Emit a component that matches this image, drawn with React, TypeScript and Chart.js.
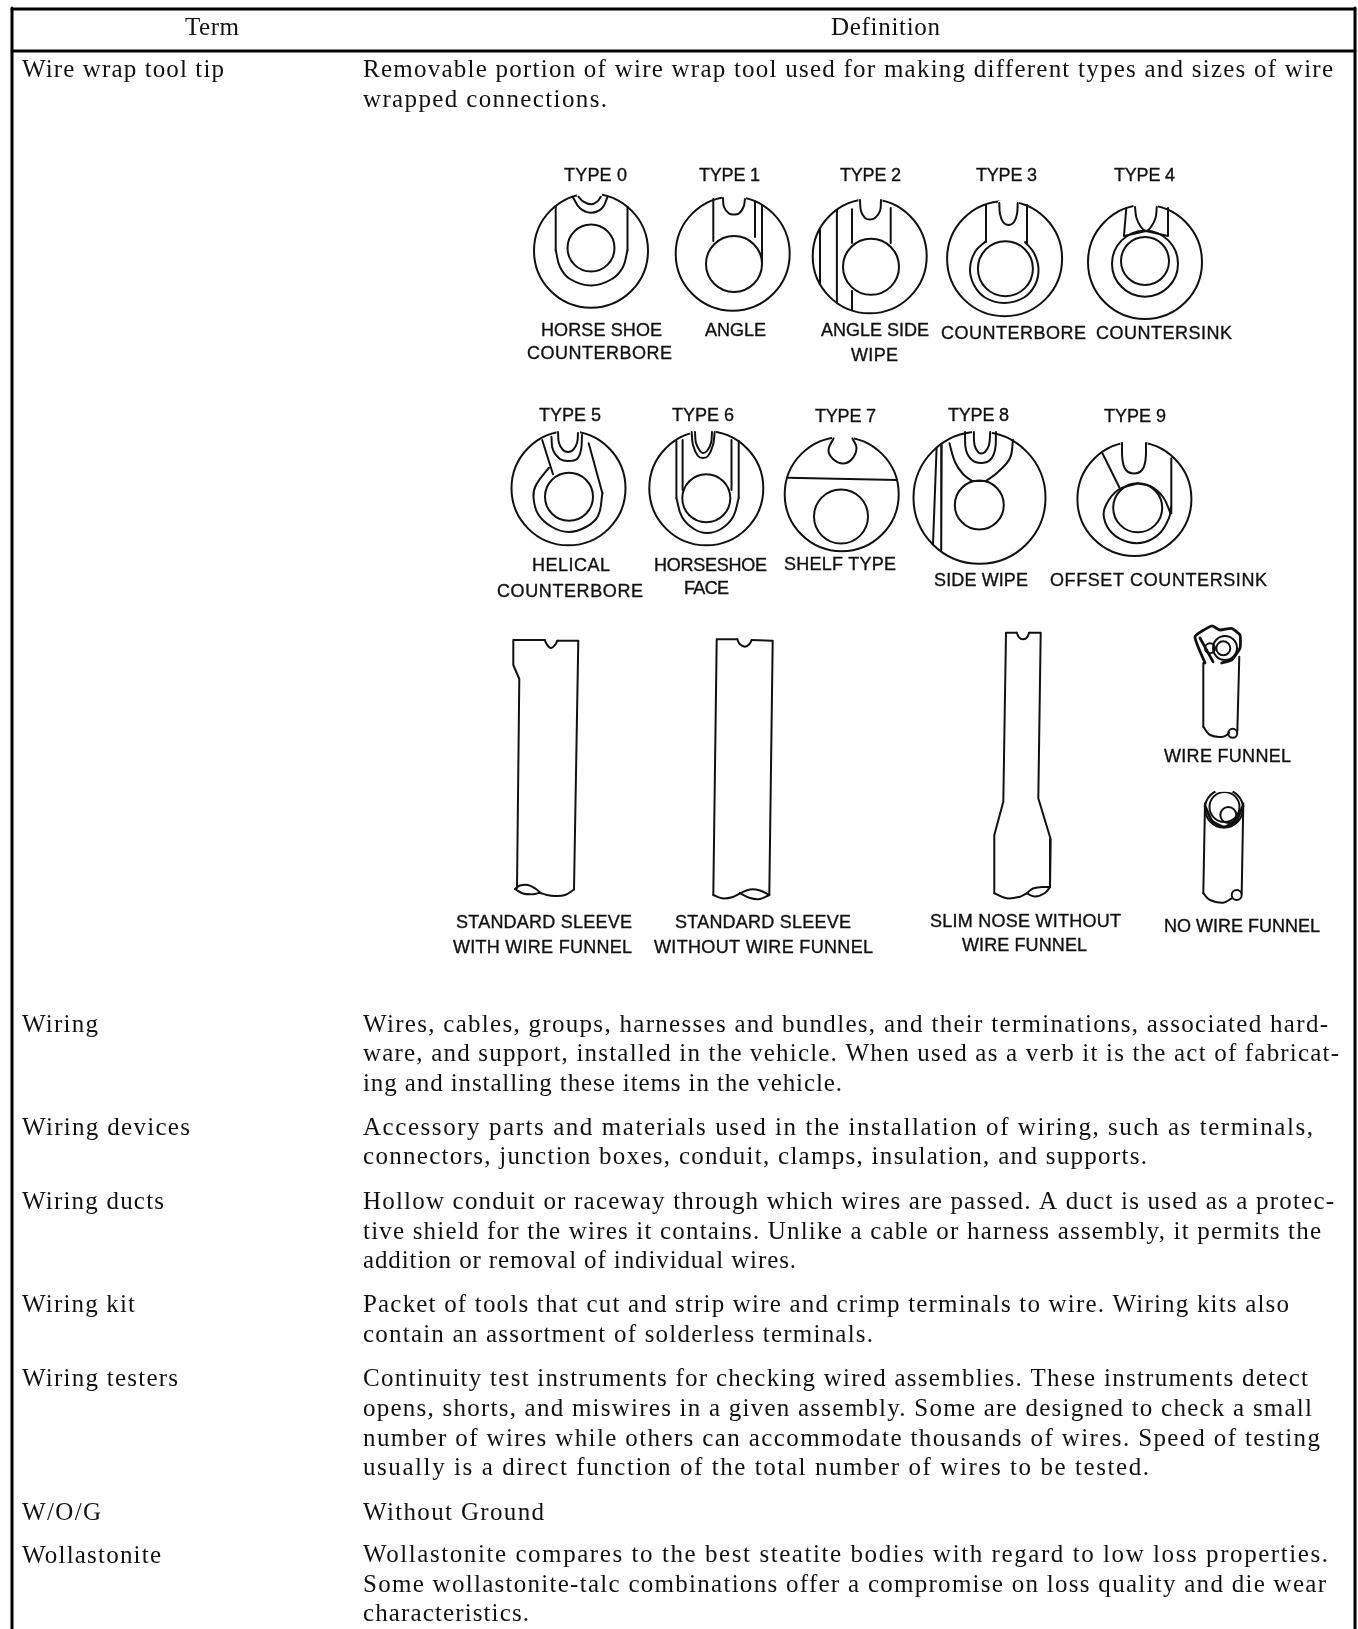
import React, { useEffect, useRef } from "react";
import { Chart, registerables } from "chart.js";

Chart.register(...registerables);

type P = [number, number];

const headerLabels = ["Term", "Definition"];
const termLabels = ["Wire wrap tool tip", "Wiring", "Wiring devices", "Wiring ducts", "Wiring kit", "Wiring testers", "W/O/G", "Wollastonite"];
const definitionLines = [
  "Removable portion of wire wrap tool used for making different types and sizes of wire",
  "wrapped connections.",
  "Wires, cables, groups, harnesses and bundles, and their terminations, associated hard-",
  "ware, and support, installed in the vehicle. When used as a verb it is the act of fabricat-",
  "ing and installing these items in the vehicle.",
  "Accessory parts and materials used in the installation of wiring, such as terminals,",
  "connectors, junction boxes, conduit, clamps, insulation, and supports.",
  "Hollow conduit or raceway through which wires are passed. A duct is used as a protec-",
  "tive shield for the wires it contains. Unlike a cable or harness assembly, it permits the",
  "addition or removal of individual wires.",
  "Packet of tools that cut and strip wire and crimp terminals to wire. Wiring kits also",
  "contain an assortment of solderless terminals.",
  "Continuity test instruments for checking wired assemblies. These instruments detect",
  "opens, shorts, and miswires in a given assembly. Some are designed to check a small",
  "number of wires while others can accommodate thousands of wires. Speed of testing",
  "usually is a direct function of the total number of wires to be tested.",
  "Without Ground",
  "Wollastonite compares to the best steatite bodies with regard to low loss properties.",
  "Some wollastonite-talc combinations offer a compromise on loss quality and die wear",
  "characteristics.",
];
const diagramLabels = [
  "TYPE 0", "TYPE 1", "TYPE 2", "TYPE 3", "TYPE 4",
  "HORSE SHOE", "COUNTERBORE", "ANGLE", "ANGLE SIDE", "WIPE", "COUNTERBORE", "COUNTERSINK",
  "TYPE 5", "TYPE 6", "TYPE 7", "TYPE 8", "TYPE 9",
  "HELICAL", "COUNTERBORE", "HORSESHOE", "FACE", "SHELF TYPE", "SIDE WIPE", "OFFSET COUNTERSINK",
  "STANDARD SLEEVE", "WITH WIRE FUNNEL", "STANDARD SLEEVE", "WITHOUT WIRE FUNNEL",
  "SLIM NOSE WITHOUT", "WIRE FUNNEL", "WIRE FUNNEL", "NO WIRE FUNNEL",
];

// Text extents on the page scale: [left, right, baseline]
const headerExtents: number[][] = [[185, 239, 35], [831, 940, 35]];
const termExtents: number[][] = [[22, 224, 77], [22, 98, 1032], [22, 190, 1135], [22, 164, 1209], [22, 135, 1312], [22, 178, 1386], [22, 101, 1520], [22, 161, 1563]];
const definitionLeft = 363;
const definitionEnds = [1333, 607, 1328, 1339, 842, 1313, 1147, 1334, 1321, 796, 1289, 873, 1308, 1312, 1320, 1149, 544, 1328, 1326, 529];
const definitionBaselines = [77, 107, 1032, 1061, 1091, 1135, 1164, 1209, 1239, 1268, 1312, 1342, 1386, 1416, 1446, 1475, 1520, 1562, 1592, 1621];
const diagramExtents: number[][] = [
  [564, 627, 181], [699, 760, 181], [840, 901, 181], [976, 1037, 181], [1114, 1175, 181],
  [541, 662, 336], [527, 672, 359], [705, 766, 336], [821, 929, 336], [851, 898, 361], [941, 1086, 339], [1096, 1232, 339],
  [539, 601, 421], [672, 734, 421], [815, 876, 422], [948, 1009, 421], [1104, 1166, 422],
  [532, 610, 571], [497, 643, 597], [654, 767, 571], [684, 729, 594], [784, 896, 570], [934, 1028, 586], [1050, 1267, 586],
  [456, 632, 928], [453, 632, 953], [675, 851, 928], [654, 873, 953],
  [930, 1121, 927], [962, 1087, 951], [1164, 1291, 762], [1164, 1320, 932],
];

const tableFrame: P[][] = [
  [[12, 9], [1355, 9]],
  [[12, 51], [1355, 51]],
  [[12, 8], [12, 1629]],
  [[1355, 8], [1355, 1629]],
];

// [x, y, r]
const tipCircles: number[][] = [
  [591, 250.7, 57], [591, 248, 23.5],
  [732.7, 253.7, 57], [734, 264, 28],
  [869.7, 256.3, 57], [871, 266.8, 28],
  [1004.6, 258.7, 57.5], [1005.4, 268.7, 27.5],
  [1145, 262, 57], [1145, 261, 24], [1145, 263.7, 33],
  [568.5, 488.3, 57], [569, 496.7, 24],
  [706.3, 488.3, 57], [706.3, 498.3, 24],
  [841.7, 494.2, 57], [841, 516.5, 27],
  [979.5, 497.8, 66], [979.3, 505, 24.5],
  [1134.4, 499, 57], [1137.7, 507.8, 24.5],
  [1225, 648, 12], [1223.3, 648.3, 7], [1210, 648.3, 5], [1232.7, 733.3, 4.5],
  [1224, 808.5, 19], [1224.5, 807, 15], [1228.3, 815, 8], [1236.7, 895, 5],
];

const notchMasks: P[][] = [
  [[579, 195], [591, 193.7], [600, 195]],
  [[724, 197.5], [733, 196.7], [744, 197.7]],
  [[860.5, 200.3], [870, 199.3], [880.5, 200]],
  [[1000, 202.5], [1008, 201.7], [1017, 202.5]],
  [[1135.5, 205.6], [1145, 205], [1156, 205.6]],
  [[558.5, 432], [568, 431.3], [578, 432]],
  [[692, 432.5], [703, 431.7], [714, 432.5]],
  [[834, 437.7], [843, 437], [852, 437.7]],
  [[974, 432], [981, 431.7], [990, 432]],
  [[1122.5, 443.5], [1134, 442.3], [1145.5, 443.5]],
  [[1217, 790], [1224, 789.5], [1231, 790]],
];

const straightStrokes: P[][] = [
  // type 0
  [[555.7, 206], [555.7, 250]], [[627.5, 207], [627.5, 250]],
  // type 1
  [[713.3, 199], [713.3, 241]], [[755, 201.7], [755, 237]], [[762, 205], [762, 265]],
  // type 2
  [[852, 209.3], [852, 243]], [[890.7, 208], [890.7, 243]], [[852, 291], [852, 310]], [[836.9, 210], [836.9, 303]], [[820, 228.4], [820, 284.2]],
  // type 3
  [[986, 205], [986, 242]], [[1027, 205], [1027, 243]],
  // type 4
  [[1126.3, 208.3], [1124, 235]], [[1168, 208], [1168, 235]], [[1124, 236], [1146, 231], [1168, 236]],
  // type 5
  [[602.4, 493.3], [588.7, 443.3]], [[542.2, 440], [553, 474.3]],
  // type 6
  [[676.4, 441], [676.4, 498]], [[738.7, 441], [738.7, 498]], [[682.6, 440], [682.6, 490]], [[731.5, 440], [731.5, 490]],
  // type 7
  [[787.7, 477.7], [896.8, 480]],
  // type 8
  [[941.7, 445], [941.2, 550]], [[936.6, 448], [933, 544.5]], [[972, 481], [986, 481]],
  // type 9
  [[1102.4, 453.3], [1119.3, 487.3]], [[1171.3, 458.3], [1171.3, 513.3]],
  // sleeves
  [[517, 888], [519.3, 679], [513.3, 665], [513.3, 640], [545, 640]], [[557.3, 640.7], [578.3, 640.7], [574, 889.5]],
  [[713.3, 895], [716.7, 639.3], [737.3, 639.3]], [[751.7, 640], [772.7, 640.7], [769.3, 895]],
  [[994.3, 893.3], [994.3, 835], [1003.3, 801.7], [1006, 632.7], [1016.7, 632.7]],
  [[1029.3, 632.7], [1040.7, 632.7], [1038.3, 798.3], [1050.7, 839.3], [1050, 887]],
  // funnels
  [[1203.3, 663], [1203.3, 726.7]], [[1239.3, 656.7], [1237.3, 731.7]], [[1205, 803.3], [1203.3, 893.3]], [[1243.3, 803.3], [1241.7, 893.3]],
];

const curvedStrokes: P[][] = [
  // type 0
  [[572.7, 196.7], [580, 208.3], [591, 212.7], [602, 208.3], [607.6, 196.7]],
  [[578.5, 196.7], [583.4, 201.7], [591, 204.3], [597, 201.7], [600.8, 196.7]],
  [[555.7, 250], [560, 267], [570, 279], [591, 285.5], [612, 279], [623, 267], [627.5, 250]],
  // type 1
  [[723, 198], [724, 207], [729, 213.5], [734, 214.5], [739, 213.5], [743.5, 207], [745, 199]],
  // type 2
  [[860, 200], [861, 211], [865, 218], [870, 219.5], [875, 218], [880, 211], [881, 200]],
  // type 3
  [[999.3, 203], [1000, 214], [1003, 222], [1008.5, 225], [1014, 222], [1017, 214], [1017.7, 203]],
  [[986, 241], [975, 252], [970, 269], [974, 285], [985, 297.5], [1004, 303], [1024, 297.5], [1035, 285], [1038.5, 269], [1034, 253], [1025, 242]],
  // type 4
  [[1135, 207], [1136.5, 218], [1141, 227], [1146, 231], [1151, 227], [1155.5, 218], [1156.8, 207]],
  // type 5
  [[549, 467.7], [536, 485], [533.5, 497], [538, 514], [552, 527], [569, 532], [586, 527], [598, 516], [602.5, 493]],
  [[558, 432], [559, 443], [563, 450], [568, 452], [573, 450], [577, 443], [578, 433]],
  [[551.4, 436.7], [553, 450], [560, 459], [568, 461], [577, 459], [581, 450], [582, 435]],
  // type 6
  [[676.4, 498], [682, 517], [694, 529], [707, 533], [721, 529], [733, 517], [738.7, 498]],
  [[691.7, 432], [693, 445], [698, 456], [703, 458], [708, 456], [713, 445], [714.7, 432]],
  [[695, 432], [696, 443], [700, 451], [703, 453], [707, 451], [711, 443], [712, 432]],
  // type 7
  [[833.6, 438.3], [828.5, 450], [833, 459], [843, 463.5], [852, 459], [856.5, 448], [852.4, 438.3]],
  // type 8
  [[973.9, 432], [974.5, 445], [978, 452], [981, 453.5], [985, 452], [989, 445], [990.2, 432]],
  [[965, 432], [966, 450], [972, 460], [981, 463], [990, 460], [995, 450], [996, 432]],
  [[949.4, 443.3], [955, 462], [963, 474], [972, 481]],
  [[1013, 440], [1010, 458], [998, 472], [986, 481]],
  // type 9
  [[1122, 443], [1122.5, 460], [1126, 470], [1134, 473.5], [1142, 470], [1145.5, 460], [1146, 443]],
  [[1137, 483.6], [1118, 490], [1106, 505], [1104, 518], [1112, 533], [1128, 542], [1145, 542], [1160, 533], [1169, 518], [1171, 507]],
  [[1137, 483.6], [1150, 486], [1163, 497], [1170, 512]],
  // sleeve 1
  [[545, 640.7], [548, 646], [551, 648], [555, 645], [557.3, 640.7]],
  [[515, 889], [520, 885.5], [528, 885], [536, 889], [540, 892.7]],
  [[515, 889], [523, 893.5], [533, 894.3], [540, 892.7]],
  [[540, 892.7], [547, 895], [555, 896], [565, 895], [574, 889.5]],
  // sleeve 2
  [[737.3, 639.3], [740, 644.3], [745, 646.7], [749.3, 644.3], [751.7, 640]],
  [[713.3, 895], [722, 898.3], [732, 897.3], [740, 893.3]],
  [[740, 893.3], [750, 889.5], [760, 890.5], [769.3, 895]],
  [[740, 893.3], [750, 898], [760, 899], [769.3, 895]],
  // slim nose
  [[1016.7, 632.7], [1019.3, 637.7], [1022.7, 639.3], [1026.7, 637.7], [1029.3, 632.7]],
  [[994.3, 893.3], [1006.7, 898.3], [1020, 896.7], [1026.7, 893.3]],
  [[1026.7, 893.3], [1033, 888.5], [1042, 887], [1050, 887]],
  [[1026.7, 893.3], [1035, 896.5], [1045, 893], [1050, 887]],
  // funnels
  [[1203.3, 726.7], [1210, 735], [1223, 736.7], [1229.3, 733]],
  [[1203.3, 893.3], [1210, 900], [1223.3, 902.7], [1231.7, 898.3]],
];

const heavyStrokes: P[][] = [
  [[1205, 663], [1195, 636.7], [1211.7, 626], [1220, 630], [1231.7, 628.3], [1240, 635], [1240, 648], [1231.7, 660], [1221.7, 663]],
  [[1200, 638], [1213, 661.7]],
  [[1205, 806], [1212, 821], [1224, 827], [1236, 821], [1243, 806]],
];

const PAGE_W = 1358;
const PAGE_H = 1629;
const INK = "#111111";

const pts = (s: P[]) => s.map(([x, y]) => ({ x, y }));

const textPlugin = {
  id: "pageText",
  afterDraw(chart: any) {
    const { ctx, scales } = chart;
    const put = (t: string, ext: number[], font: string, weight: number) => {
      ctx.save();
      ctx.font = font;
      ctx.fillStyle = INK;
      ctx.strokeStyle = INK;
      ctx.lineWidth = weight;
      ctx.textBaseline = "alphabetic";
      ctx.textAlign = "left";
      ctx.letterSpacing = "0px";
      const left = scales.x.getPixelForValue(ext[0]);
      const right = scales.x.getPixelForValue(ext[1]);
      const natural = ctx.measureText(t).width;
      ctx.letterSpacing = `${(right - left - natural) / Math.max(1, t.length - 1)}px`;
      const y = scales.y.getPixelForValue(ext[2]);
      ctx.fillText(t, left, y);
      if (weight > 0) ctx.strokeText(t, left, y);
      ctx.restore();
    };
    const serif = '25px "Liberation Serif"';
    const sans = '18px "Liberation Sans"';
    headerLabels.forEach((t, i) => put(t, headerExtents[i], serif, 0));
    termLabels.forEach((t, i) => put(t, termExtents[i], serif, 0));
    definitionLines.forEach((t, i) => put(t, [definitionLeft, definitionEnds[i], definitionBaselines[i]], serif, 0));
    diagramLabels.forEach((t, i) => put(t, diagramExtents[i], sans, 0.35));
  },
};

export default function App() {
  const ref = useRef<HTMLCanvasElement>(null);
  useEffect(() => {
    const lineSet = (s: P[], color: string, width: number, tension: number, order: number) => ({
      type: "scatter" as const,
      data: pts(s),
      showLine: true,
      borderColor: color,
      backgroundColor: color,
      borderWidth: width,
      tension,
      pointRadius: 0,
      pointHoverRadius: 0,
      borderCapStyle: "round",
      borderJoinStyle: "round",
      order,
    });
    const datasets: any[] = [
      {
        type: "bubble",
        data: tipCircles.map(([x, y, r]) => ({ x, y, r })),
        borderColor: INK,
        backgroundColor: "rgba(0,0,0,0)",
        borderWidth: 2,
        hoverRadius: 0,
        order: 5,
      },
      ...notchMasks.map((s) => lineSet(s, "#ffffff", 4.5, 0.3, 4)),
      ...tableFrame.map((s) => lineSet(s, "#000000", 3, 0, 3)),
      ...straightStrokes.map((s) => lineSet(s, INK, 2, 0, 2)),
      ...curvedStrokes.map((s) => lineSet(s, INK, 2, 0.4, 2)),
      ...heavyStrokes.map((s) => lineSet(s, INK, 2.8, 0.15, 1)),
    ];
    const chart = new Chart(ref.current!, {
      type: "scatter",
      data: { datasets },
      plugins: [
        {
          id: "paper",
          beforeDraw(c: any) {
            c.ctx.save();
            c.ctx.fillStyle = "#ffffff";
            c.ctx.fillRect(0, 0, c.width, c.height);
            c.ctx.restore();
          },
        },
        textPlugin,
      ],
      options: {
        animation: false,
        responsive: false,
        devicePixelRatio: 1,
        layout: { padding: 0, autoPadding: false },
        events: [],
        plugins: { legend: { display: false }, tooltip: { enabled: false }, title: { display: false } },
        scales: {
          x: { type: "linear", display: false, min: 0, max: PAGE_W },
          y: { type: "linear", display: false, min: 0, max: PAGE_H, reverse: true },
        },
      },
    } as any);
    return () => chart.destroy();
  }, []);
  return (
    <div style={{ position: "absolute", left: 0, top: 0, width: PAGE_W, height: PAGE_H, background: "#fff" }}>
      <canvas ref={ref} width={PAGE_W} height={PAGE_H} style={{ display: "block" }} />
    </div>
  );
}
